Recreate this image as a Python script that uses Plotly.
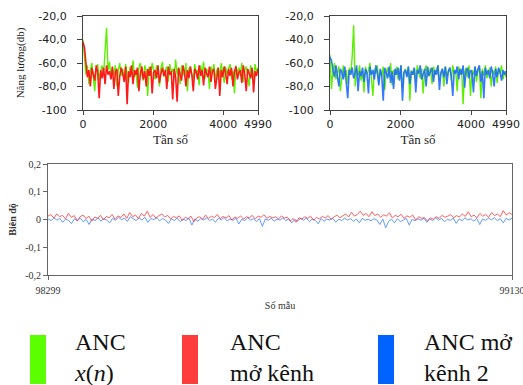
import numpy as np
import plotly.graph_objects as go

# ---- data ----
GL = [-40,-58,-70,-62,-78,-66,-60,-72,-84,-64,-61,-75,-68,-62,-70,-48,-30,-66,-59,-73,-64,-70,-62,-80,-66,-60,-71,-65,-74,-61,-68,-77,-63,-70,-58,-72,-66,-81,-64,-60,-69,-75,-62,-67,-88,-63,-71,-60,-66,-74,-62,-69,-80,-64,-59,-72,-67,-63,-76,-61,-68,-65,-73,-57,-70,-64,-78,-62,-67,-71,-60,-84,-65,-63,-70,-74,-61,-68,-66,-79,-62,-70,-59,-73,-65,-67,-82,-63,-69,-61,-75,-66,-64,-72,-60,-68,-77,-63,-70,-65,-61,-74,-67,-86,-62,-69,-64,-71,-60,-76,-66,-63,-70,-80,-62,-67,-73,-61,-68,-64]
RL = [-42,-47,-60,-72,-66,-80,-64,-70,-75,-62,-68,-90,-66,-73,-64,-78,-62,-70,-67,-74,-63,-82,-68,-65,-88,-71,-64,-69,-76,-63,-95,-67,-72,-62,-78,-66,-70,-64,-84,-69,-63,-74,-67,-80,-65,-71,-63,-86,-68,-66,-73,-62,-77,-69,-64,-71,-66,-82,-63,-70,-67,-91,-65,-72,-93,-64,-69,-75,-62,-68,-80,-66,-73,-63,-70,-84,-65,-68,-74,-62,-71,-66,-79,-64,-69,-72,-63,-76,-67,-65,-82,-70,-64,-88,-66,-72,-63,-69,-78,-65,-71,-64,-80,-67,-63,-74,-68,-66,-77,-62,-70,-84,-65,-69,-73,-64,-85,-67,-71,-65]
GR = [-53,-82,-66,-60,-74,-68,-63,-84,-70,-62,-72,-66,-78,-64,-69,-55,-28,-80,-65,-71,-62,-75,-67,-85,-63,-70,-66,-60,-73,-88,-65,-69,-62,-77,-66,-71,-63,-83,-68,-64,-72,-60,-79,-66,-70,-63,-74,-67,-62,-81,-68,-65,-71,-63,-92,-66,-70,-64,-76,-62,-69,-73,-65,-86,-67,-62,-72,-68,-64,-78,-63,-70,-66,-62,-74,-69,-65,-80,-63,-71,-67,-64,-75,-62,-69,-66,-84,-63,-70,-65,-95,-68,-64,-72,-62,-88,-66,-70,-63,-76,-67,-64,-90,-65,-71,-62,-73,-68,-64,-80,-66,-70,-63,-77,-65,-69,-62,-74,-67,-72]
BR = [-55,-58,-66,-72,-62,-70,-80,-65,-68,-74,-63,-77,-90,-66,-70,-64,-73,-68,-62,-84,-67,-71,-64,-76,-65,-69,-86,-63,-70,-66,-74,-62,-68,-79,-65,-71,-92,-64,-69,-73,-63,-77,-67,-82,-65,-70,-64,-75,-62,-92,-68,-66,-72,-63,-78,-67,-70,-64,-85,-66,-69,-62,-74,-68,-65,-80,-63,-71,-67,-64,-76,-66,-70,-62,-83,-68,-65,-72,-63,-78,-67,-64,-71,-88,-66,-69,-63,-74,-65,-70,-62,-81,-67,-64,-73,-66,-68,-85,-63,-71,-65,-62,-76,-67,-90,-64,-70,-66,-73,-63,-69,-80,-65,-72,-64,-68,-75,-66,-70,-67]
RB = [0.012,0.018,0.005,0.020,0.010,0.015,0.002,0.022,0.008,0.014,-0.004,0.010,0.016,0.003,0.012,-0.006,0.009,0.004,0.015,-0.002,0.011,0.006,0.018,0.001,0.013,0.007,0.020,0.004,0.025,0.010,0.016,0.003,0.022,0.012,0.030,0.008,0.018,0.005,0.014,0.020,0.009,0.015,0.002,0.011,0.006,0.013,-0.004,0.008,0.003,0.012,-0.008,0.006,0.010,0.001,0.016,0.004,0.012,0.007,0.018,0.003,0.011,0.005,0.014,-0.002,0.009,0.004,0.013,0.001,0.010,0.006,0.015,0.002,0.012,0.008,0.017,0.004,0.011,0.006,0.010,0.002,0.013,0.005,0.009,-0.006,0.004,-0.010,0.006,0.002,0.010,0.004,0.012,-0.003,0.008,0.002,0.011,0.005,0.014,0.001,0.009,0.016,0.006,0.012,0.020,0.009,0.026,0.012,0.018,0.030,0.015,0.022,0.010,0.028,0.014,0.020,0.008,0.017,0.012,0.024,0.006,0.015,0.010,0.019,0.004,0.013,0.008,0.016,-0.002,0.010,0.004,0.007,-0.005,0.006,0.001,0.010,0.004,0.015,0.008,0.012,0.018,0.006,0.014,0.009,0.020,0.011,0.028,0.010,0.016,0.006,0.022,0.012,0.018,0.008,0.025,0.014,0.020,0.010,0.032,0.016,0.024,0.018]
BB = [0.002,-0.004,0.006,-0.002,0.004,-0.010,0.001,-0.003,-0.015,0.003,-0.005,0.005,-0.008,0.000,-0.018,0.002,-0.004,0.006,-0.006,0.003,-0.002,-0.012,0.004,-0.003,0.008,-0.001,0.005,-0.007,0.010,0.002,-0.004,0.006,-0.002,0.008,-0.010,0.003,0.000,0.006,-0.005,0.004,-0.002,-0.014,0.003,-0.004,0.005,-0.008,0.001,-0.003,0.004,-0.020,0.002,-0.006,0.003,-0.002,0.006,-0.004,0.002,-0.010,0.004,-0.001,0.007,-0.005,0.002,-0.003,0.005,-0.016,0.001,-0.004,0.006,-0.002,0.003,-0.008,0.004,-0.025,0.002,-0.003,0.005,-0.006,0.001,-0.002,0.006,-0.004,0.003,-0.012,0.000,-0.005,0.004,-0.002,0.005,-0.008,0.002,-0.003,-0.015,0.003,-0.006,0.002,-0.002,0.004,-0.010,0.001,-0.004,0.005,-0.002,0.003,-0.007,0.002,-0.012,0.004,-0.003,0.001,-0.005,0.003,-0.002,-0.018,0.002,-0.030,-0.006,0.001,-0.012,0.003,-0.008,-0.002,0.004,-0.020,0.001,-0.005,0.003,-0.003,0.005,-0.010,0.002,-0.004,0.006,-0.002,0.004,-0.008,0.001,-0.003,0.005,-0.014,0.002,-0.004,0.006,-0.002,0.003,-0.006,0.004,-0.018,0.002,-0.003,0.005,-0.001,0.006,-0.004,0.003,-0.012,0.004,-0.002,0.005]

F_MAX = 4990
S_START, S_END = 98299, 99130
top_yticks = [-20, -40, -60, -80, -100]
top_ylabels = ["-20,0", "-40,0", "-60,0", "-80,0", "-100"]
top_xticks = [0, 2000, 4000, 4990]
bot_yticks = [0.2, 0.1, 0, -0.1, -0.2]
bot_ylabels = ["0,2", "0,1", "0", "-0,1", "-0,2"]
legend_items = ["ANC<br><i>x</i>(<i>n</i>)", "ANC<br>mở kênh", "ANC mở<br>kênh 2"]

GREEN = "#5cf000"
RED = "#ff1a1a"
BLUE = "#1f6bff"

def fx(arr):
    return np.linspace(0, F_MAX, len(arr))

def sx(arr):
    return np.linspace(S_START, S_END, len(arr))

W, H = 523, 385
def px(x): return x / W
def py(y): return 1 - y / H

fig = go.Figure()
fig.add_trace(go.Scatter(x=fx(GL), y=GL, mode="lines", line=dict(color=GREEN, width=1.4), xaxis="x", yaxis="y"))
fig.add_trace(go.Scatter(x=fx(RL), y=RL, mode="lines", line=dict(color=RED, width=1.6), xaxis="x", yaxis="y"))
fig.add_trace(go.Scatter(x=fx(GR), y=GR, mode="lines", line=dict(color=GREEN, width=1.4), xaxis="x2", yaxis="y2"))
fig.add_trace(go.Scatter(x=fx(BR), y=BR, mode="lines", line=dict(color=BLUE, width=1.6), opacity=0.9, xaxis="x2", yaxis="y2"))
fig.add_trace(go.Scatter(x=sx(BB), y=BB, mode="lines", line=dict(color="#3d82ff", width=1), opacity=0.8, xaxis="x3", yaxis="y3"))
fig.add_trace(go.Scatter(x=sx(RB), y=RB, mode="lines", line=dict(color="#ff2a2a", width=1), opacity=0.75, xaxis="x3", yaxis="y3"))

tick_font_top = dict(family="DejaVu Sans", size=11, color="#222")
serif = "Liberation Serif"

common_top_x = dict(range=[0, F_MAX], tickvals=top_xticks, ticktext=[str(v) for v in top_xticks],
                    showline=True, mirror=True, linecolor="#444", linewidth=1, ticks="outside", ticklen=4,
                    tickcolor="#444", showgrid=False, zeroline=False, tickfont=tick_font_top, automargin=False,
                    ticklabeloverflow="allow")
common_top_y = dict(range=[-100, -20], tickvals=top_yticks, ticktext=top_ylabels,
                    showline=True, mirror=True, linecolor="#444", linewidth=1, ticks="outside", ticklen=5,
                    tickcolor="#444", showgrid=False, zeroline=False, tickfont=tick_font_top, automargin=False,
                    ticklabelstandoff=8)

fig.update_layout(
    width=W, height=H, margin=dict(l=0, r=0, t=0, b=0),
    paper_bgcolor="white", plot_bgcolor="white", showlegend=False,
    xaxis=dict(domain=[px(83), px(258)], anchor="y",
               title=dict(text="Tần số", font=dict(family=serif, size=13, color="#222"), standoff=4),
               **common_top_x),
    yaxis=dict(domain=[py(110), py(16)], anchor="x",
               title=dict(text="Năng lượng(db)", font=dict(family=serif, size=11, color="#222"), standoff=11),
               **common_top_y),
    xaxis2=dict(domain=[px(330), px(506)], anchor="y2",
                title=dict(text="Tần số", font=dict(family=serif, size=13, color="#222"), standoff=4),
                **common_top_x),
    yaxis2=dict(domain=[py(110), py(16)], anchor="x2", **common_top_y),
    xaxis3=dict(domain=[px(48), px(512)], anchor="y3", range=[S_START, S_END], automargin=False,
                tickvals=[S_START, S_END], ticktext=[str(S_START), str(S_END)],
                showline=True, mirror=True, linecolor="#666", linewidth=1, ticks="outside", ticklen=4,
                tickcolor="#666", showgrid=False, zeroline=False, ticklabeloverflow="allow",
                ticklabelstandoff=2,
                tickfont=dict(family=serif, size=10, color="#333"),
                title=dict(text="Số mẫu", font=dict(family=serif, size=10, color="#333"), standoff=6)),
    yaxis3=dict(domain=[py(275), py(164)], anchor="x3", range=[-0.2, 0.2], automargin=False,
                tickvals=bot_yticks, ticktext=bot_ylabels,
                showline=True, mirror=True, linecolor="#666", linewidth=1, ticks="outside", ticklen=4,
                tickcolor="#666", showgrid=False, zeroline=False,
                tickfont=dict(family=serif, size=10, color="#333"),
                title=dict(text="<b>Biên độ</b>", font=dict(family=serif, size=10, color="#333"), standoff=6)),
)

# legend swatches and text
sw_x = [30, 182, 378]
txt_x = [72, 228, 422]
sw_col = ["#5cff00", "#ff3c3c", "#0062ff"]
for i, txt in enumerate(legend_items):
    fig.add_shape(type="rect", xref="paper", yref="paper",
                  x0=px(sw_x[i]), x1=px(sw_x[i] + 16), y0=py(384), y1=py(335),
                  line=dict(width=0), fillcolor=sw_col[i])
    fig.add_annotation(xref="paper", yref="paper", x=px(txt_x[i]), y=py(327), xanchor="left", yanchor="top",
                       text=txt, align="left", showarrow=False,
                       font=dict(family=serif, size=24, color="#111"))

fig.write_html("out.html", config={"displayModeBar": False},
               post_script="document.body.style.margin='0';document.body.style.overflow='hidden';")
